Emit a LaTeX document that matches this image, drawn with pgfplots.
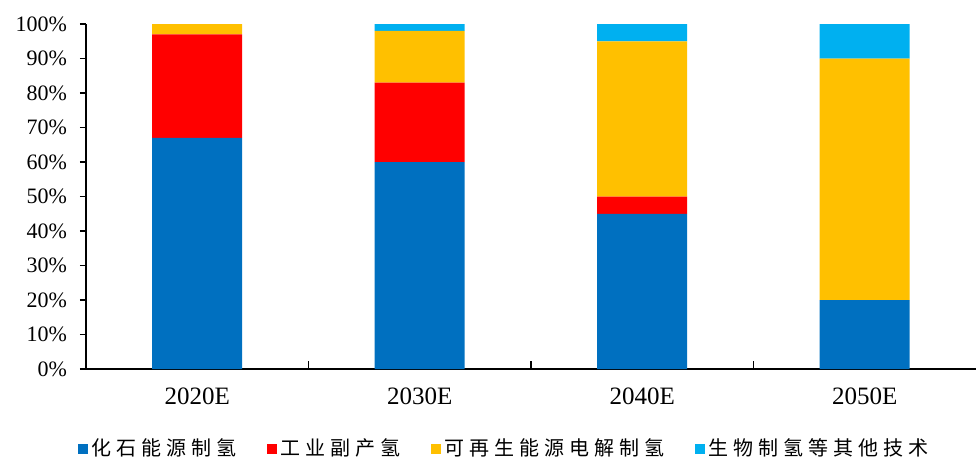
\documentclass[border=0pt]{standalone}
\usepackage{fontspec}
\setmainfont{Liberation Serif}
\newfontfamily\cjk[LetterSpace=25]{Noto Sans CJK SC}
\usepackage{pgfplots}
\pgfplotsset{compat=1.18}

\definecolor{cFossil}{HTML}{0070C0}
\definecolor{cIndus}{HTML}{FF0000}
\definecolor{cRenew}{HTML}{FFC000}
\definecolor{cBio}{HTML}{00B0F0}

\begin{document}
\begin{tikzpicture}
\path[use as bounding box] (-43pt,-44pt) rectangle (445pt,184.5pt);
\begin{axis}[
  at={(0,0)}, anchor=south west,
  scale only axis,
  width=445pt, height=172.5pt,
  ybar stacked,
  bar width=45pt,
  xmin=-0.5, xmax=3.5,
  ymin=0, ymax=100,
  axis x line*=bottom,
  axis y line*=left,
  axis line style={line width=0.75pt, -},
  xtick={0,1,2,3},
  xticklabels={2020E,2030E,2040E,2050E},
  minor xtick={0.5,1.5,2.5},
  x tick style={draw=none},
  minor x tick style={draw=black, line width=0.6pt},
  minor tick length=4pt,
  xtick align=inside,
  ytick align=outside,
  xticklabel style={yshift=-6pt, font=\fontsize{12.5}{14}\selectfont},
  ytick={0,10,...,100},
  yticklabel={\pgfmathprintnumber{\tick}\%},
  y tick style={line width=0.6pt, black},
  major tick length=3pt,
  yticklabel style={xshift=-3pt, font=\fontsize{11}{13}\selectfont},
  /pgf/number format/assume math mode=true,
  legend columns=4,
  legend style={at={(0.471,-0.232)}, anchor=center, draw=none, fill=none,
    font=\cjk\fontsize{10}{12}\selectfont,
    /tikz/every even column/.append style={column sep=13pt}},
  legend image code/.code={\fill[#1] (0pt,-2.5pt) rectangle (5pt,2.5pt);},
]
\addplot[fill=cFossil, draw=none] coordinates {(0,67) (1,60) (2,45) (3,20)};
\addplot[fill=cIndus, draw=none] coordinates {(0,30) (1,23) (2,5) (3,0)};
\addplot[fill=cRenew, draw=none] coordinates {(0,3) (1,15) (2,45) (3,70)};
\addplot[fill=cBio, draw=none] coordinates {(0,0) (1,2) (2,5) (3,10)};
\legend{化石能源制氢,工业副产氢,可再生能源电解制氢,生物制氢等其他技术}
\end{axis}
\end{tikzpicture}
\end{document}
